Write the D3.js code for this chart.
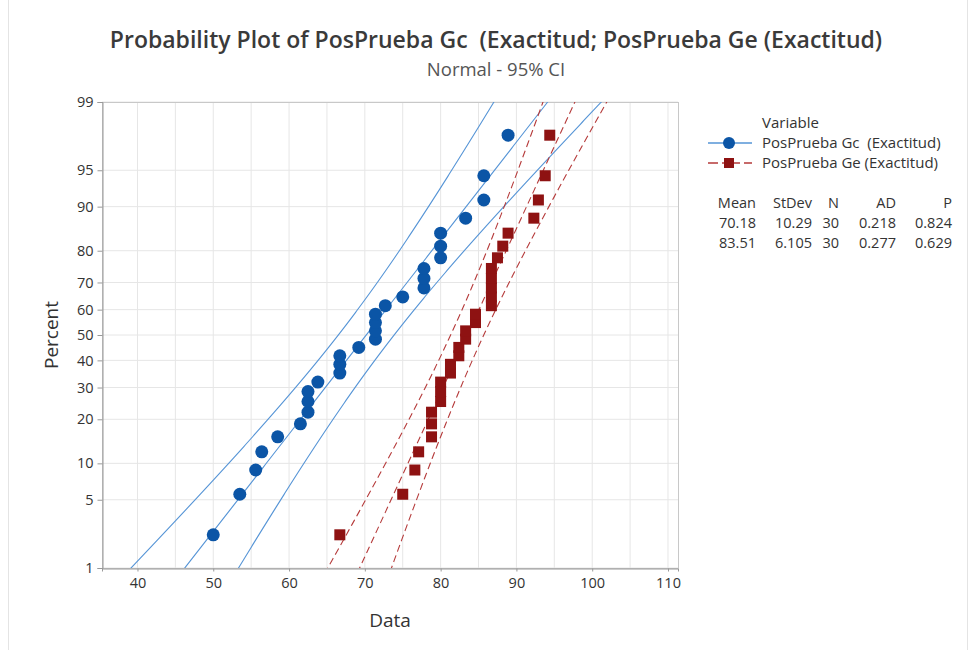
<!DOCTYPE html>
<html>
<head>
  <meta charset="utf8" />
  <style>
    body {
      margin: 0;
      background: #fff;
    }
    text {
      font-family: "Open Sans", "Noto Sans", sans-serif;
      fill: #333;
      white-space: pre;
    }
    .grid line {
      stroke: #e6e6e6;
      stroke-width: 1;
    }
  </style>
</head>
<body>
  <script src="https://d3js.org/d3.v7.min.js"></script>

  <script>
    // data (sorted values of each sample)
    var gcValues = [50, 53.5, 55.6, 56.4, 58.5, 61.5, 62.5, 62.5, 62.5, 63.8,
                    66.7, 66.7, 66.7, 69.2, 71.4, 71.4, 71.4, 71.4, 72.7, 75,
                    77.8, 77.8, 77.8, 80, 80, 80, 83.3, 85.7, 85.7, 88.9];
    var geValues = [66.7, 75, 76.6, 77.1, 78.8, 78.8, 78.8, 80, 80, 80,
                    81.3, 81.3, 82.4, 82.4, 83.3, 83.3, 84.6, 84.6, 86.7, 86.7,
                    86.7, 86.7, 86.7, 87.5, 88.2, 88.9, 92.3, 92.9, 93.8, 94.4];

    var seriesNames = ["PosPrueba Gc  (Exactitud)", "PosPrueba Ge (Exactitud)"];
    var means = [70.18, 83.51];
    var stdevs = [10.29, 6.105];
    var counts = [30, 30];
    var adStats = ["0.218", "0.277"];
    var pValues = ["0.824", "0.629"];
    var meanLabels = ["70.18", "83.51"];
    var stdevLabels = ["10.29", "6.105"];

    var xTicks = [40, 50, 60, 70, 80, 90, 100, 110];
    var xGrid = d3.range(40, 111, 5);
    var yTicks = [1, 5, 10, 20, 30, 40, 50, 60, 70, 80, 90, 95, 99];

    var width = 971, height = 650;
    var plot = {left: 102, right: 678, top: 102, bottom: 568};

    // inverse normal cdf (Acklam)
    function probit(p) {
      var a = [-3.969683028665376e+01, 2.209460984245205e+02, -2.759285104469687e+02, 1.383577518672690e+02, -3.066479806614716e+01, 2.506628277459239e+00],
          b = [-5.447609879822406e+01, 1.615858368580409e+02, -1.556989798598866e+02, 6.680131188771972e+01, -1.328068155288572e+01],
          c = [-7.784894002430293e-03, -3.223964580411365e-01, -2.400758276161862e+00, -2.549732539343734e+00, 4.374664141464968e+00, 2.938163982698783e+00],
          d = [7.784695709041462e-03, 3.224671290700398e-01, 2.445134137142996e+00, 3.754408661907416e+00];
      var plow = 0.02425, q, r;
      if (p < plow) {
        q = Math.sqrt(-2 * Math.log(p));
        return (((((c[0]*q+c[1])*q+c[2])*q+c[3])*q+c[4])*q+c[5]) / ((((d[0]*q+d[1])*q+d[2])*q+d[3])*q+1);
      }
      if (p > 1 - plow) {
        q = Math.sqrt(-2 * Math.log(1 - p));
        return -(((((c[0]*q+c[1])*q+c[2])*q+c[3])*q+c[4])*q+c[5]) / ((((d[0]*q+d[1])*q+d[2])*q+d[3])*q+1);
      }
      q = p - 0.5; r = q * q;
      return (((((a[0]*r+a[1])*r+a[2])*r+a[3])*r+a[4])*r+a[5])*q / (((((b[0]*r+b[1])*r+b[2])*r+b[3])*r+b[4])*r+1);
    }

    var x = d3.scaleLinear().domain([35.32, 111.32]).range([plot.left, plot.right]);
    var y = d3.scaleLinear().domain([probit(0.01), probit(0.99)]).range([plot.bottom, plot.top]);

    var svg = d3.select("body").append("svg").attr("width", width).attr("height", height);

    svg.append("defs").append("clipPath").attr("id", "clip")
      .append("rect")
        .attr("x", plot.left).attr("y", plot.top)
        .attr("width", plot.right - plot.left).attr("height", plot.bottom - plot.top);

    // faint outer border of the graph window
    svg.append("line").attr("x1", 8.5).attr("x2", 8.5).attr("y1", 0).attr("y2", height)
      .attr("stroke", "#e4e4e4");
    svg.append("line").attr("x1", 967.5).attr("x2", 967.5).attr("y1", 0).attr("y2", height)
      .attr("stroke", "#e4e4e4");

    // titles
    svg.append("text")
        .attr("x", 496).attr("y", 48)
        .attr("text-anchor", "middle")
        .style("font-size", "23px").style("font-weight", 600).style("fill", "#3a3a3a")
        .text("Probability Plot of PosPrueba Gc  (Exactitud; PosPrueba Ge (Exactitud)");
    svg.append("text")
        .attr("x", 496).attr("y", 76)
        .attr("text-anchor", "middle")
        .style("font-size", "18.5px").style("fill", "#555")
        .text("Normal - 95% CI");

    // grid
    var grid = svg.append("g").attr("class", "grid");
    grid.selectAll(".vx").data(xGrid).enter().append("line")
        .attr("x1", d => x(d)).attr("x2", d => x(d))
        .attr("y1", plot.top).attr("y2", plot.bottom);
    grid.selectAll(".hy").data(yTicks).enter().append("line")
        .attr("x1", plot.left).attr("x2", plot.right)
        .attr("y1", d => y(probit(d / 100))).attr("y2", d => y(probit(d / 100)));

    svg.append("rect")
        .attr("x", plot.left + 0.5).attr("y", plot.top + 0.5)
        .attr("width", plot.right - plot.left).attr("height", plot.bottom - plot.top)
        .attr("fill", "none").attr("stroke", "#c8c8c8");

    // axes
    var xAxis = svg.append("g")
        .attr("transform", "translate(0," + (plot.bottom + 0.5) + ")")
        .call(d3.axisBottom(x).tickValues(xTicks).tickSize(3).tickPadding(6));
    var yAxis = svg.append("g")
        .attr("transform", "translate(" + (plot.left + 0.5) + ",0)")
        .call(d3.axisLeft(d3.scaleLinear().domain(y.domain()).range(y.range()))
          .tickValues(yTicks.map(d => probit(d / 100)))
          .tickFormat((d, i) => yTicks[i])
          .tickSize(5).tickPadding(4));
    [xAxis, yAxis].forEach(g => {
      g.select(".domain").attr("stroke", "#999");
      g.selectAll(".tick line").attr("stroke", "#999");
      g.selectAll(".tick text")
        .style("font-family", "\"Open Sans\", sans-serif")
        .style("font-size", "14.5px").style("fill", "#333");
    });

    svg.append("text")
        .attr("x", 390).attr("y", 627)
        .attr("text-anchor", "middle")
        .style("font-size", "19px")
        .text("Data");
    svg.append("text")
        .attr("transform", "translate(58," + y(0) + ") rotate(-90)")
        .attr("text-anchor", "middle")
        .style("font-size", "19px")
        .text("Percent");

    // fitted lines and 95% CI
    var colors = {line: ["#5594d6", "#b53a3a"], mark: ["#0b55a6", "#8e1212"]};
    var zs = d3.range(probit(0.005), probit(0.995) + 0.001, 0.02);
    var lines = svg.append("g").attr("clip-path", "url(#clip)");
    means.forEach((m, s) => {
      var sd = stdevs[s], n = counts[s];
      [-1, 0, 1].forEach(k => {
        var pts = zs.map(z => {
          var se = sd * Math.sqrt(1 / n + z * z / (2 * n));
          return [x(m + z * sd + k * 1.96 * se), y(z)];
        });
        lines.append("path")
            .attr("d", d3.line()(pts))
            .attr("fill", "none")
            .attr("stroke", colors.line[s])
            .attr("stroke-width", 1.1)
            .attr("stroke-dasharray", s === 1 ? "7,4" : null);
      });
    });

    // points at median ranks
    function rankZ(i, n) { return probit((i + 1 - 0.3) / (n + 0.4)); }

    svg.append("g").selectAll("circle")
        .data(gcValues)
      .enter().append("circle")
        .attr("cx", d => x(d))
        .attr("cy", (d, i) => y(rankZ(i, gcValues.length)))
        .attr("r", 6.5)
        .attr("fill", colors.mark[0]);

    svg.append("g").selectAll("rect")
        .data(geValues)
      .enter().append("rect")
        .attr("x", d => x(d) - 5.5)
        .attr("y", (d, i) => y(rankZ(i, geValues.length)) - 5.5)
        .attr("width", 11).attr("height", 11)
        .attr("fill", colors.mark[1]);

    // legend
    var legend = svg.append("g");
    legend.append("text").attr("x", 762).attr("y", 128).style("font-size", "15px").text("Variable");
    seriesNames.forEach((name, s) => {
      var ly = 143 + s * 20;
      legend.append("line")
          .attr("x1", 708).attr("x2", 752).attr("y1", ly).attr("y2", ly)
          .attr("stroke", colors.line[s]).attr("stroke-width", 1.3)
          .attr("stroke-dasharray", s === 1 ? "10,4,18,4,10" : null);
      if (s === 0) {
        legend.append("circle").attr("cx", 729).attr("cy", ly).attr("r", 6).attr("fill", colors.mark[0]);
      } else {
        legend.append("rect").attr("x", 724).attr("y", ly - 5).attr("width", 10).attr("height", 10).attr("fill", colors.mark[1]);
      }
      legend.append("text").attr("x", 762).attr("y", ly + 5).style("font-size", "15px").text(name);
    });

    // statistics table
    var colRight = [756, 812, 839, 896, 952];
    var headers = ["Mean", "StDev", "N", "AD", "P"];
    var table = svg.append("g").style("font-size", "14.5px");
    headers.forEach((h, j) => {
      table.append("text").attr("x", colRight[j]).attr("y", 208).attr("text-anchor", "end").text(h);
    });
    means.forEach((m, s) => {
      var row = [meanLabels[s], stdevLabels[s], counts[s], adStats[s], pValues[s]];
      row.forEach((v, j) => {
        table.append("text").attr("x", colRight[j]).attr("y", 228 + s * 20).attr("text-anchor", "end").text(v);
      });
    });
  </script>
</body>
</html>
